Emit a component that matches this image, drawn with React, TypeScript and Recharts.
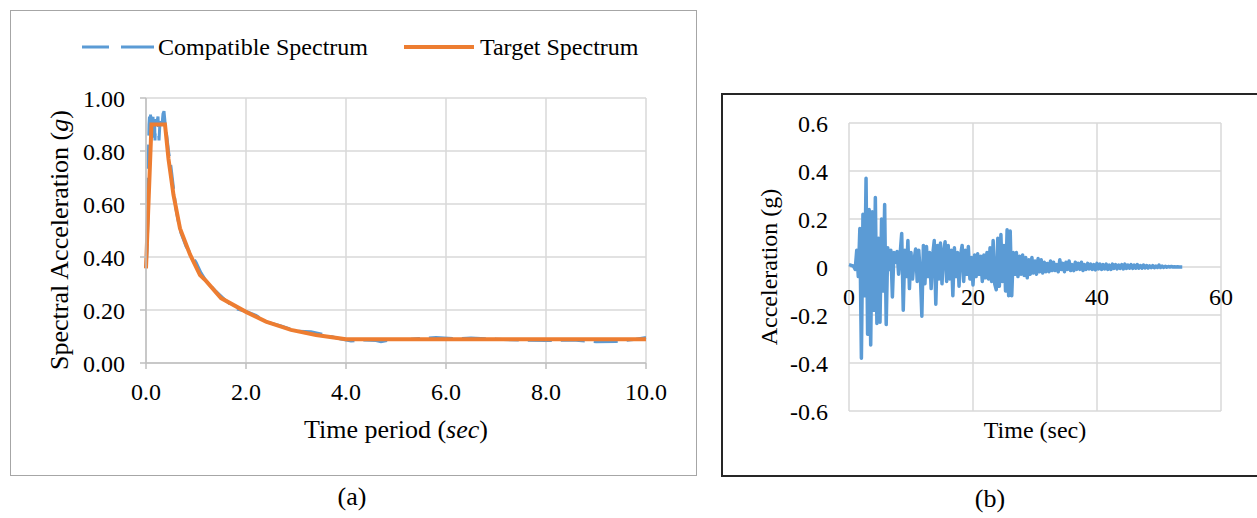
import React from 'react';
import { LineChart, Line, XAxis, YAxis, CartesianGrid, Legend, Label } from 'recharts';

const FONT = '"Liberation Serif", "Times New Roman", serif';
const BLUE = '#5B9BD5';
const ORANGE = '#ED7D31';
const GRID = '#d9d9d9';

// ---------- (a) response spectra ----------
const SERIES_NAMES = ['Compatible Spectrum', 'Target Spectrum'];
const TARGET_T = [0, 0.11, 0.38, 0.45, 0.55, 0.68, 0.88, 1.08, 1.2, 1.5, 2.0, 2.4, 2.9, 3.4, 4.0, 10.0];
const TARGET_SA = [0.357, 0.9, 0.9, 0.77, 0.634, 0.508, 0.41, 0.332, 0.31, 0.245, 0.193, 0.156, 0.125, 0.106, 0.09, 0.09];
const COMPAT_T = [0, 0.02, 0.04, 0.05, 0.06, 0.07, 0.08, 0.09, 0.10, 0.11, 0.12, 0.13, 0.14, 0.15, 0.16, 0.17, 0.18, 0.19, 0.20, 0.22, 0.24, 0.26, 0.28, 0.30, 0.32, 0.34, 0.36, 0.38, 0.40, 0.42, 0.45, 0.50, 0.55, 0.60, 0.65, 0.70, 0.80, 0.90, 1.0, 1.1, 1.2, 1.4, 1.6, 1.8, 2.0, 2.2, 2.4, 2.5, 2.7, 3.0, 3.3, 3.6, 3.9, 4.1, 4.3, 4.6, 4.7, 4.9, 5.3, 5.8, 6.2, 6.5, 7.0, 7.5, 8.0, 8.6, 9.0, 9.4, 9.8, 10.0];
const COMPAT_SA = [0.36, 0.42, 0.55, 0.80, 0.90, 0.93, 0.91, 0.94, 0.89, 0.93, 0.85, 0.92, 0.93, 0.88, 0.92, 0.93, 0.84, 0.90, 0.92, 0.91, 0.93, 0.84, 0.91, 0.92, 0.90, 0.94, 0.95, 0.91, 0.88, 0.85, 0.80, 0.74, 0.66, 0.58, 0.53, 0.49, 0.44, 0.41, 0.38, 0.34, 0.31, 0.27, 0.235, 0.205, 0.195, 0.18, 0.155, 0.15, 0.14, 0.12, 0.118, 0.105, 0.09, 0.083, 0.087, 0.085, 0.08, 0.088, 0.09, 0.096, 0.092, 0.094, 0.09, 0.086, 0.085, 0.086, 0.08, 0.081, 0.09, 0.096];
const SPEC_X_TICKS = [0, 2, 4, 6, 8, 10];
const SPEC_Y_TICKS = [0, 0.2, 0.4, 0.6, 0.8, 1.0];

// ---------- (b) acceleration time history ----------
const ACC_DT = 0.25; // sampling step of the record, seconds
const ACC_G = [
  0.010, 0.008, 0.006, 0.002, -0.010, 0.070, -0.040, 0.160, -0.380, 0.220, -0.120, 0.370, -0.280, 0.240, -0.325, 0.230,
  -0.180, 0.290, -0.235, 0.120, -0.230, 0.200, -0.100, 0.260, -0.240, 0.080, -0.010, 0.070, -0.125, 0.060, 0.020, 0.065,
  -0.030, 0.055, 0.140, -0.180, 0.070, -0.040, 0.110, -0.090, 0.060, -0.050, 0.030, 0.075, -0.060, 0.070, -0.030, -0.205,
  0.090, -0.070, 0.085, -0.040, 0.060, -0.090, 0.050, 0.110, -0.155, 0.090, -0.050, 0.100, -0.070, 0.060, 0.105, -0.060,
  0.090, -0.050, 0.070, -0.120, 0.080, -0.040, 0.060, -0.080, 0.050, 0.090, -0.060, 0.070, -0.030, 0.085, -0.050, 0.040,
  -0.075, 0.050, -0.040, 0.055, -0.030, 0.045, -0.060, 0.050, -0.045, 0.060, -0.050, 0.080, -0.060, 0.110, -0.070, -0.095,
  0.120, -0.080, 0.135, -0.060, 0.090, -0.100, 0.155, -0.120, 0.150, -0.120, 0.060, -0.030, 0.060, -0.040, 0.045, -0.030,
  0.050, -0.035, 0.040, -0.045, 0.030, -0.030, 0.040, -0.025, 0.025, -0.030, 0.035, -0.020, 0.030, -0.025, 0.020, -0.020,
  0.015, -0.020, 0.025, -0.015, 0.020, -0.015, 0.010, -0.020, 0.030, -0.010, 0.015, -0.020, 0.020, -0.010, 0.025, -0.015,
  0.010, -0.015, 0.020, -0.010, 0.015, -0.010, 0.020, -0.015, 0.010, -0.010, 0.015, -0.008, 0.012, -0.010, 0.010, -0.012,
  0.015, -0.008, 0.012, -0.010, 0.010, -0.008, 0.012, -0.010, 0.008, -0.010, 0.012, -0.006, 0.010, -0.008, 0.008, -0.006,
  0.010, -0.008, 0.012, -0.006, 0.008, -0.005, 0.010, -0.006, 0.008, -0.005, 0.010, -0.005, 0.006, -0.005, 0.008, -0.004,
  0.006, -0.004, 0.005, -0.003, 0.006, -0.003, 0.004, -0.002, 0.008, -0.002, 0.004, -0.002, 0.003, -0.001, 0.002, 0.000,
  0.002, 0.000, 0.001, 0.000, 0.001, 0.000, 0.000, 0.000,
];
const ACC_X_TICKS = [0, 20, 40, 60];
const ACC_Y_TICKS = [-0.6, -0.4, -0.2, 0, 0.2, 0.4, 0.6];
const CAPTIONS = ['(a)', '(b)'];

const targetRows = TARGET_T.map((t, i) => ({ t, sa: TARGET_SA[i] }));
const compatRows = COMPAT_T.map((t, i) => ({ t, sa: COMPAT_SA[i] }));
const accRows = ACC_G.map((a, i) => ({ t: i * ACC_DT, a }));

const tickStyle = (size: number) => ({ fill: '#000', fontSize: size, fontFamily: FONT });

const SpecLegend = () => (
  <div
    style={{
      display: 'flex',
      alignItems: 'center',
      height: 34,
      paddingLeft: 82,
      fontFamily: FONT,
      fontSize: 24,
      color: '#000',
      whiteSpace: 'nowrap',
    }}
  >
    <svg width={72} height={10}>
      <line x1={0} y1={5} x2={72} y2={5} stroke={BLUE} strokeWidth={3} strokeDasharray="27 12 40" />
    </svg>
    <span style={{ marginLeft: 4 }}>{SERIES_NAMES[0]}</span>
    <svg width={70} height={10} style={{ marginLeft: 36 }}>
      <line x1={0} y1={5} x2={70} y2={5} stroke={ORANGE} strokeWidth={4} />
    </svg>
    <span style={{ marginLeft: 6 }}>{SERIES_NAMES[1]}</span>
  </div>
);

const SpecXTitle = () => (
  <text x={396} y={438} textAnchor="middle" fontFamily={FONT} fontSize={26} fill="#000">
    Time period (<tspan fontStyle="italic">sec</tspan>)
  </text>
);

const SpecYTitle = () => (
  <text transform="translate(68,240) rotate(-90)" x={0} y={0} textAnchor="middle" fontFamily={FONT} fontSize={26} fill="#000">
    Spectral Acceleration (<tspan fontStyle="italic">g</tspan>)
  </text>
);

const AccXTitle = () => (
  <text x={335} y={438} textAnchor="middle" fontFamily={FONT} fontSize={24} fill="#000">
    Time (sec)
  </text>
);

const AccYTitle = () => (
  <text transform="translate(77,267) rotate(-90)" x={0} y={0} textAnchor="middle" fontFamily={FONT} fontSize={24} fill="#000">
    Acceleration (g)
  </text>
);

const AccXTick = (props: any) => {
  const { x, payload } = props;
  return (
    <text x={x} y={305} textAnchor="middle" fontFamily={FONT} fontSize={24} fill="#000">
      {String(payload.value)}
    </text>
  );
};

export default function App() {
  return (
    <div style={{ position: 'absolute', left: 0, top: 0, width: 1257, height: 518, overflow: 'hidden', background: '#fff' }}>
      {/* frames */}
      <div
        style={{
          position: 'absolute',
          left: 10,
          top: 10,
          width: 687,
          height: 466,
          border: '1.5px solid #a6a6a6',
          boxSizing: 'border-box',
        }}
      />
      <div
        style={{
          position: 'absolute',
          left: 721,
          top: 93,
          width: 560,
          height: 384,
          border: '2px solid #262626',
          boxSizing: 'border-box',
        }}
      />

      {/* (a) */}
      <div style={{ position: 'absolute', left: 0, top: 0, width: 700, height: 518 }}>
        <LineChart width={700} height={518} margin={{ top: 98, right: 54, bottom: 125, left: 26 }}>
          <CartesianGrid stroke={GRID} strokeWidth={1.5} />
          <XAxis
            type="number"
            dataKey="t"
            domain={[0, 10]}
            ticks={SPEC_X_TICKS}
            tickFormatter={(v: number) => v.toFixed(1)}
            height={30}
            stroke="#bfbfbf"
            strokeWidth={1.5}
            tickSize={6}
            tickMargin={14}
            tick={tickStyle(24)}
            interval={0}
          >
            <Label content={SpecXTitle} />
          </XAxis>
          <YAxis
            type="number"
            domain={[0, 1]}
            ticks={SPEC_Y_TICKS}
            tickFormatter={(v: number) => v.toFixed(2)}
            width={120}
            stroke="#bfbfbf"
            strokeWidth={1.5}
            tickSize={6}
            tickMargin={15}
            tick={tickStyle(24)}
            interval={0}
          >
            <Label content={SpecYTitle} />
          </YAxis>
          <Line
            data={compatRows}
            dataKey="sa"
            name={SERIES_NAMES[0]}
            stroke={BLUE}
            strokeWidth={3}
            strokeDasharray="24 9"
            dot={false}
            type="linear"
            isAnimationActive={false}
          />
          <Line
            data={targetRows}
            dataKey="sa"
            name={SERIES_NAMES[1]}
            stroke={ORANGE}
            strokeWidth={4}
            dot={false}
            type="linear"
            isAnimationActive={false}
          />
          <Legend
            layout="horizontal"
            verticalAlign="middle"
            align="center"
            content={SpecLegend}
            wrapperStyle={{ position: 'absolute', top: 30, left: 0, width: 700, height: 34 }}
          />
        </LineChart>
      </div>

      {/* (b) */}
      <div style={{ position: 'absolute', left: 700, top: 0, width: 557, height: 518 }}>
        <LineChart width={557} height={518} data={accRows} margin={{ top: 123, right: 36, bottom: 77, left: 49 }}>
          <CartesianGrid stroke={GRID} strokeWidth={1.5} />
          <XAxis
            type="number"
            dataKey="t"
            domain={[0, 60]}
            ticks={ACC_X_TICKS}
            height={30}
            axisLine={false}
            tickLine={false}
            tick={<AccXTick />}
            interval={0}
          >
            <Label content={AccXTitle} />
          </XAxis>
          <YAxis
            type="number"
            domain={[-0.6, 0.6]}
            ticks={ACC_Y_TICKS}
            width={100}
            axisLine={false}
            tickLine={false}
            tickSize={0}
            tickMargin={21}
            tick={tickStyle(24)}
            interval={0}
          >
            <Label content={AccYTitle} />
          </YAxis>
          <Line dataKey="a" stroke={BLUE} strokeWidth={3.5} strokeLinejoin="round" dot={false} type="linear" isAnimationActive={false} />
        </LineChart>
      </div>

      {/* captions */}
      <div style={{ position: 'absolute', left: 302, top: 482, width: 100, textAlign: 'center', fontFamily: FONT, fontSize: 26, color: '#000' }}>
        {CAPTIONS[0]}
      </div>
      <div style={{ position: 'absolute', left: 940, top: 484, width: 100, textAlign: 'center', fontFamily: FONT, fontSize: 26, color: '#000' }}>
        {CAPTIONS[1]}
      </div>
    </div>
  );
}
